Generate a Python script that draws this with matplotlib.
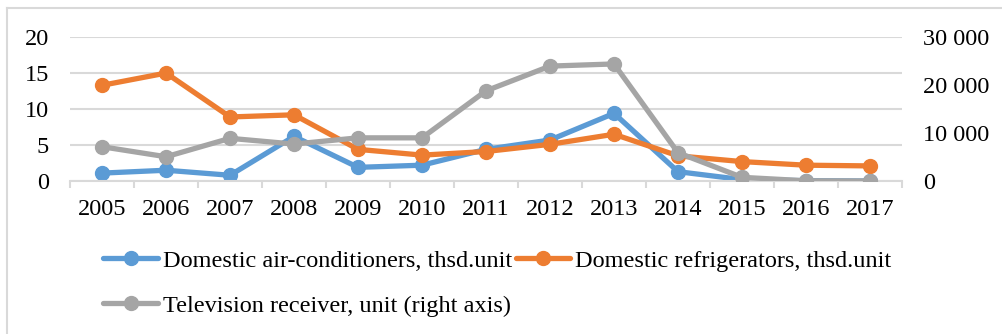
import matplotlib.pyplot as plt
from matplotlib.lines import Line2D
from matplotlib.ticker import FuncFormatter, MultipleLocator

years = ["2005", "2006", "2007", "2008", "2009", "2010", "2011",
         "2012", "2013", "2014", "2015", "2016", "2017"]
air_cond = [1.1, 1.5, 0.8, 6.2, 1.9, 2.2, 4.4, 5.7, 9.4, 1.3, 0.2, 0.05, 0.0]
fridges = [13.3, 15.0, 8.9, 9.2, 4.4, 3.6, 4.1, 5.1, 6.5, 3.5, 2.7, 2.2, 2.1]
tv_sets = [7150, 5060, 8900, 7700, 9000, 9000, 18800, 23950, 24400, 5900, 770, 50, 0]

plt.rcParams["font.family"] = ["Liberation Serif", "DejaVu Serif"]
plt.rcParams["font.size"] = 17.5

BLUE = "#5B9BD5"
ORANGE = "#ED7D31"
GREY = "#A5A5A5"
GRID = "#D9D9D9"

fig = plt.figure(figsize=(10.02, 3.34), dpi=100)
ax = fig.add_axes([0.0699, 0.458, 0.8303, 0.431])
x = list(range(len(years)))

style = dict(linewidth=3.8, marker="o", markersize=10, solid_capstyle="round")
l1, = ax.plot(x, air_cond, color=BLUE, label="Domestic air-conditioners, thsd.unit", **style)
l2, = ax.plot(x, fridges, color=ORANGE, label="Domestic refrigerators, thsd.unit", **style)

ax.set_ylim(0, 20)
ax.set_xlim(-0.5, len(years) - 0.5)
ax.yaxis.set_major_locator(MultipleLocator(5))
ax.grid(axis="y", color=GRID, linewidth=1.5)
ax.set_axisbelow(True)
ax.set_xticks(x)
ax.set_xticklabels(years)
ax.set_xticks([i - 0.5 for i in range(len(years) + 1)], minor=True)
ax.tick_params(axis="x", which="major", length=0, pad=13)
ax.tick_params(axis="x", which="minor", length=5, width=1.5, color=GRID)
ax.tick_params(axis="y", length=0, pad=15)
for side in ["top", "right", "left"]:
    ax.spines[side].set_visible(False)
ax.spines["bottom"].set_color(GRID)
ax.spines["bottom"].set_linewidth(1.5)

#right axis for TV sets
ax2 = ax.twinx()
l3, = ax2.plot(x, tv_sets, color=GREY, label="Television receiver, unit (right axis)", **style)
ax2.set_ylim(0, 30000)
ax2.yaxis.set_major_locator(MultipleLocator(10000))
ax2.yaxis.set_major_formatter(FuncFormatter(lambda v, p: f"{int(v):,}".replace(",", " ")))
ax2.tick_params(axis="y", length=0, pad=15)
for side in ["top", "right", "left", "bottom"]:
    ax2.spines[side].set_visible(False)

fig.legend(handles=[l1, l3, l2], ncol=2, frameon=False,
           loc="upper left", bbox_to_anchor=(0.103, 0.253),
           borderpad=0, borderaxespad=0, handlelength=2.25,
           handletextpad=0.2, columnspacing=0.15, labelspacing=0.95)

#chart frame
fig.add_artist(Line2D([0.007, 0.007], [0.0, 0.976], color=GRID, linewidth=1.5))
fig.add_artist(Line2D([0.007, 1.0], [0.976, 0.976], color=GRID, linewidth=1.5))

plt.savefig("out.png", dpi=100)
